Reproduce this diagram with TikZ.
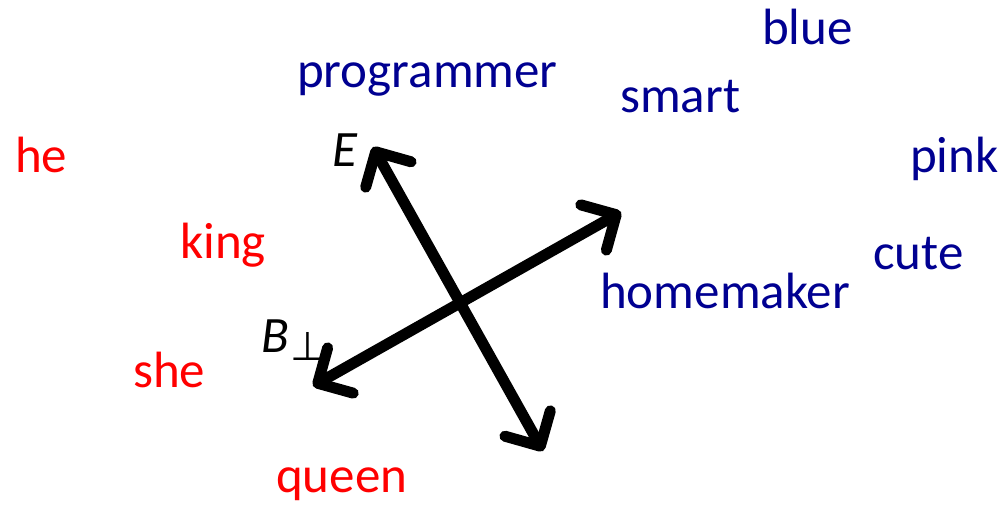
\documentclass[tikz,border=0pt]{standalone}
\usepackage{fontspec}
\setmainfont{Carlito}
\newfontfamily\symfont{DejaVu Sans}
\usetikzlibrary{arrows.meta}
\definecolor{wred}{RGB}{255,0,0}
\definecolor{wblue}{RGB}{0,0,145}
\begin{document}
\begin{tikzpicture}[x=1pt,y=-1pt,
  word/.style={inner sep=0pt,anchor=base west,font=\fontsize{51}{51}\selectfont},
  fem/.style={word,text=wred},
  neu/.style={word,text=wblue},
  axis/.style={line width=11pt,line cap=round,{Straight Barb[length=26pt,width=52pt,round]}-{Straight Barb[length=26pt,width=52pt,round]}}]
\useasboundingbox (0,0) rectangle (1003,505);
\node[neu] (blue) at (762,45) {blue};
\node[neu] (programmer) at (297,88) {programmer};
\node[neu] (smart) at (620,113) {smart};
\node[neu] (pink) at (910,173) {pink};
\node[fem] (he) at (15,173) {he};
\node[fem] (king) at (180,258) {king};
\node[neu] (cute) at (873,269) {cute};
\node[neu] (homemaker) at (600,308) {homemaker};
\node[fem] (she) at (133,387) {she};
\node[fem] (queen) at (276,492) {queen};
\node[word] (E) at (332,167) {\textit{E}};
\node[word] (B) at (261,352) {\textit{B}\hspace{2pt}\raisebox{-8pt}{\symfont\fontsize{40}{40}\selectfont ⊥}};
\coordinate (e1) at (373,147);
\coordinate (e2) at (543,451);
\coordinate (b1) at (313,386);
\coordinate (b2) at (621,212);
\draw[axis] (e1) -- (e2);
\draw[axis] (b1) -- (b2);
\end{tikzpicture}
\end{document}
